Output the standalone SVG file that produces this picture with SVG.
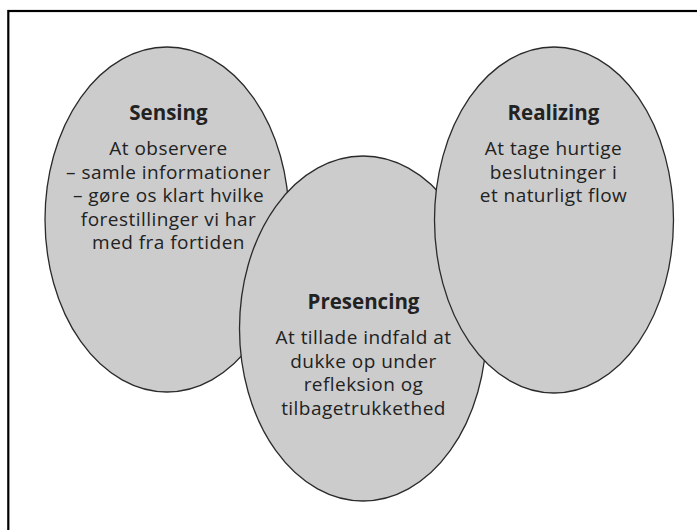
<svg xmlns="http://www.w3.org/2000/svg" width="697" height="530" viewBox="0 0 697 530">
<style>
.bub{fill:#cccccc;stroke:#2a2a2a;stroke-width:1.3}
.t{font-family:"Open Sans","Noto Sans","Liberation Sans",sans-serif;font-weight:700;font-size:20.5px;fill:#222;text-anchor:middle}
.b{font-family:"Open Sans","Noto Sans","Liberation Sans",sans-serif;font-size:19px;letter-spacing:0.45px;fill:#222;text-anchor:middle}
</style>
<rect x="0" y="0" width="697" height="530" fill="#fff"/>
<rect x="8.3" y="11" width="720" height="560" fill="none" stroke="#000" stroke-width="2.2"/>
<g id="sensing">
<ellipse class="bub" cx="167" cy="219.5" rx="122" ry="172.5"/>
<text class="t" x="168.5" y="120">Sensing</text>
<text class="b" x="168.5" y="155">At observere</text>
<text class="b" x="168.5" y="178.5">– samle informationer</text>
<text class="b" x="168.5" y="202">– gøre os klart hvilke</text>
<text class="b" x="168.5" y="225.5">forestillinger vi har</text>
<text class="b" x="168.5" y="249">med fra fortiden</text>
</g>
<g id="presencing">
<ellipse class="bub" cx="363" cy="328.5" rx="123.5" ry="172.5"/>
<text class="t" x="363.5" y="309">Presencing</text>
<text class="b" x="363.5" y="344">At tillade indfald at</text>
<text class="b" x="363.5" y="367.5">dukke op under</text>
<text class="b" x="363.5" y="391">refleksion og</text>
<text class="b" x="363.5" y="414.5">tilbagetrukkethed</text>
</g>
<g id="realizing">
<ellipse class="bub" cx="554" cy="220" rx="119.5" ry="173"/>
<text class="t" x="553.5" y="120">Realizing</text>
<text class="b" x="553.5" y="155">At tage hurtige</text>
<text class="b" x="553.5" y="178.5">beslutninger i</text>
<text class="b" x="553.5" y="202">et naturligt flow</text>
</g>
<g id="connectors"></g>
</svg>
